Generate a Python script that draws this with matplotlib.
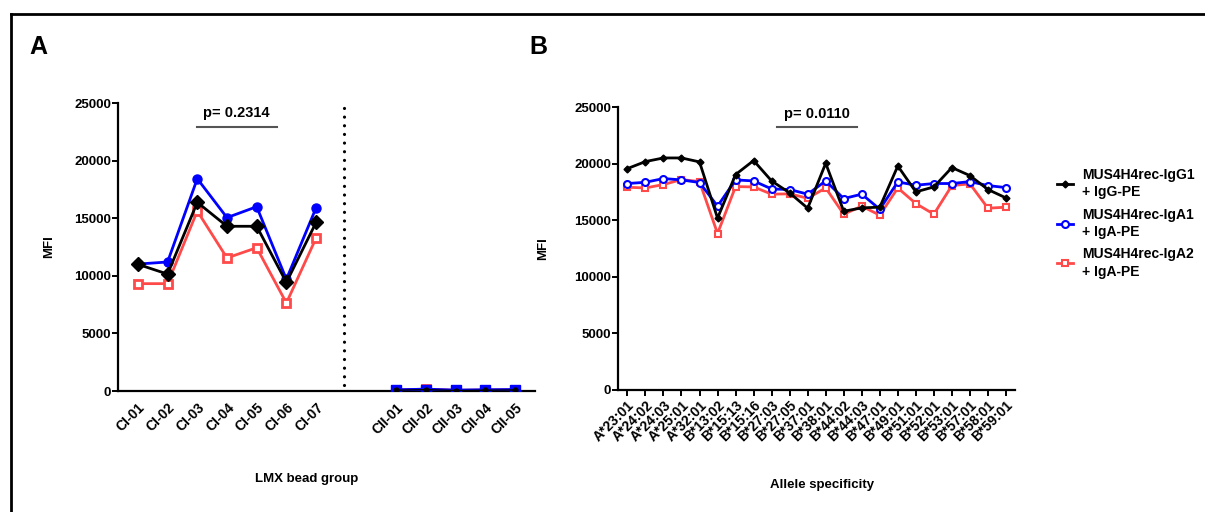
import matplotlib
matplotlib.use('Agg')
import matplotlib.pyplot as plt
import numpy as np
from matplotlib.lines import Line2D

plt.rcParams['font.family'] = ['Liberation Sans', 'DejaVu Sans']
plt.rcParams['font.weight'] = 'bold'
plt.rcParams['axes.labelweight'] = 'bold'

# panel A: LMX bead groups
ci_labels = ['CI-01', 'CI-02', 'CI-03', 'CI-04', 'CI-05', 'CI-06', 'CI-07']
cii_labels = ['CII-01', 'CII-02', 'CII-03', 'CII-04', 'CII-05']

igg1_ci = [11000, 10150, 16380, 14300, 14300, 9430, 14640]
iga1_ci = [11020, 11200, 18430, 15050, 16000, 9700, 15910]
iga2_ci = [9320, 9320, 15620, 11550, 12440, 7640, 13280]

igg1_cii = [70, 120, 40, 70, 90]
iga1_cii = [80, 130, 50, 80, 100]
iga2_cii = [100, 160, 60, 90, 110]

# panel B: allele specificity
alleles = ['A*23:01', 'A*24:02', 'A*24:03', 'A*25:01', 'A*32:01', 'B*13:02',
           'B*15:13', 'B*15:16', 'B*27:03', 'B*27:05', 'B*37:01', 'B*38:01',
           'B*44:02', 'B*44:03', 'B*47:01', 'B*49:01', 'B*51:01', 'B*52:01',
           'B*53:01', 'B*57:01', 'B*58:01', 'B*59:01']

igg1_allele = [19560, 20180, 20500, 20500, 20150, 15180, 19030, 20270, 18470, 17410, 16060,
               20030, 15790, 16090, 16150, 19790, 17500, 17940, 19650, 18940, 17710, 16970]
iga1_allele = [18240, 18350, 18680, 18560, 18330, 16240, 18560, 18470, 17760, 17710, 17300,
               18470, 16910, 17300, 15970, 18380, 18090, 18240, 18240, 18410, 18060, 17880]
iga2_allele = [17910, 17850, 18150, 18590, 18410, 13820, 17970, 17940, 17300, 17330, 16940,
               17850, 15530, 16240, 15440, 17850, 16470, 15530, 18060, 18210, 16060, 16150]

series_names = ['MUS4H4rec-IgG1\n+ IgG-PE', 'MUS4H4rec-IgA1\n+ IgA-PE', 'MUS4H4rec-IgA2\n+ IgA-PE']
black = '#000000'
blue = '#0000ff'
red = '#ff4a4a'

fig = plt.figure(figsize=(12.05, 5.12), dpi=100)

# outer frame (top and left only)
fig.add_artist(Line2D([0.0091, 1.0], [0.9727, 0.9727], color='black', lw=2.0, transform=fig.transFigure))
fig.add_artist(Line2D([0.0091, 0.0091], [0.0, 0.9727], color='black', lw=2.0, transform=fig.transFigure))

ax_a = fig.add_axes([0.0979, 0.2363, 0.3461, 0.5625])
ax_b = fig.add_axes([0.5129, 0.2383, 0.3294, 0.5527])

for ax in (ax_a, ax_b):
    ax.spines['top'].set_visible(False)
    ax.spines['right'].set_visible(False)
    ax.spines['left'].set_linewidth(1.6)
    ax.spines['bottom'].set_linewidth(1.6)
    ax.set_ylim(0, 25000)
    ax.set_yticks([0, 5000, 10000, 15000, 20000, 25000])
    ax.tick_params(axis='y', length=4, width=1.4, labelsize=9.5, pad=1)
    for lbl in ax.get_yticklabels():
        lbl.set_fontweight('bold')

# ---- panel A ----
x_ci = np.arange(len(ci_labels))
x_cii = np.arange(len(cii_labels)) + 8.7

ax_a.plot(x_ci, iga2_ci, color=red, lw=2, marker='s', ms=5.5, mfc='white', mec=red, mew=2, zorder=3)
ax_a.plot(x_ci, iga1_ci, color=blue, lw=2, marker='o', ms=6.5, zorder=4)
ax_a.plot(x_ci, igg1_ci, color=black, lw=2, marker='D', ms=7, zorder=5)
ax_a.plot(x_cii, iga2_cii, color=red, lw=2, marker='s', ms=5.5, mfc='white', mec=red, mew=2, zorder=3)
ax_a.plot(x_cii, iga1_cii, color=blue, lw=2.5, marker='s', ms=7, zorder=4)
ax_a.plot(x_cii, igg1_cii, color=black, lw=1, marker='o', ms=3.5, zorder=5)

ax_a.axvline(6.94, ymin=0.02, ymax=1.0, color='black', lw=2.3,
             linestyle=(0, (0.01, 2.7)), dash_capstyle='round')

ax_a.set_xlim(-0.67, 13.37)
ax_a.set_xticks(np.concatenate([x_ci, x_cii]))
ax_a.set_xticklabels(ci_labels + cii_labels, rotation=45, ha='right',
                     rotation_mode='anchor', fontsize=10, fontweight='bold')
ax_a.tick_params(axis='x', length=0, pad=7)

ax_a.plot([1.99, 4.68], [22940, 22940], color='#555555', lw=1.5, clip_on=False)
ax_a.text(3.33, 24150, 'p= 0.2314', ha='center', va='center', fontsize=10.5, fontweight='bold')

ax_a.set_ylabel('MFI', fontsize=9.5, fontweight='bold')
ax_a.yaxis.set_label_coords(-0.151, 0.5)
ax_a.set_xlabel('LMX bead group', fontsize=9.5, fontweight='bold')
ax_a.xaxis.set_label_coords(0.453, -0.285)

# ---- panel B ----
x_al = np.arange(len(alleles))
ax_b.plot(x_al, iga2_allele, color=red, lw=2, marker='s', ms=5, mfc='white', mec=red, mew=1.5,
          label=series_names[2], zorder=3)
ax_b.plot(x_al, iga1_allele, color=blue, lw=2, marker='o', ms=5, mfc='white', mec=blue, mew=1.5,
          label=series_names[1], zorder=4)
ax_b.plot(x_al, igg1_allele, color=black, lw=2, marker='D', ms=3.5,
          label=series_names[0], zorder=5)

ax_b.set_xlim(-0.52, 21.5)
ax_b.set_xticks(x_al)
ax_b.set_xticklabels(alleles, rotation=45, ha='right', rotation_mode='anchor',
                     fontsize=10, fontweight='bold')
ax_b.tick_params(axis='x', length=4, width=1.4, pad=2)

ax_b.plot([8.3, 12.76], [23230, 23230], color='#555555', lw=1.5, clip_on=False)
ax_b.text(10.54, 24420, 'p= 0.0110', ha='center', va='center', fontsize=10.5, fontweight='bold')

ax_b.set_ylabel('MFI', fontsize=9.5, fontweight='bold')
ax_b.yaxis.set_label_coords(-0.174, 0.5)
ax_b.set_xlabel('Allele specificity', fontsize=9.5, fontweight='bold')
ax_b.xaxis.set_label_coords(0.514, -0.315)

handles, labels = ax_b.get_legend_handles_labels()
order = [2, 1, 0]
leg = ax_b.legend([handles[i] for i in order], [labels[i] for i in order],
                  loc='upper left', bbox_to_anchor=(0.877, 0.672), bbox_transform=fig.transFigure,
                  frameon=False, borderpad=0, borderaxespad=0, handlelength=1.2,
                  handletextpad=0.6, labelspacing=0.6,
                  prop={'size': 10, 'weight': 'bold'})
for t in leg.get_texts():
    t.set_linespacing(1.3)

fig.text(0.0315, 0.908, 'A', fontsize=18, fontweight='bold', ha='center', va='center')
fig.text(0.4465, 0.908, 'B', fontsize=18, fontweight='bold', ha='center', va='center')

fig.savefig('out.png', dpi=100)
